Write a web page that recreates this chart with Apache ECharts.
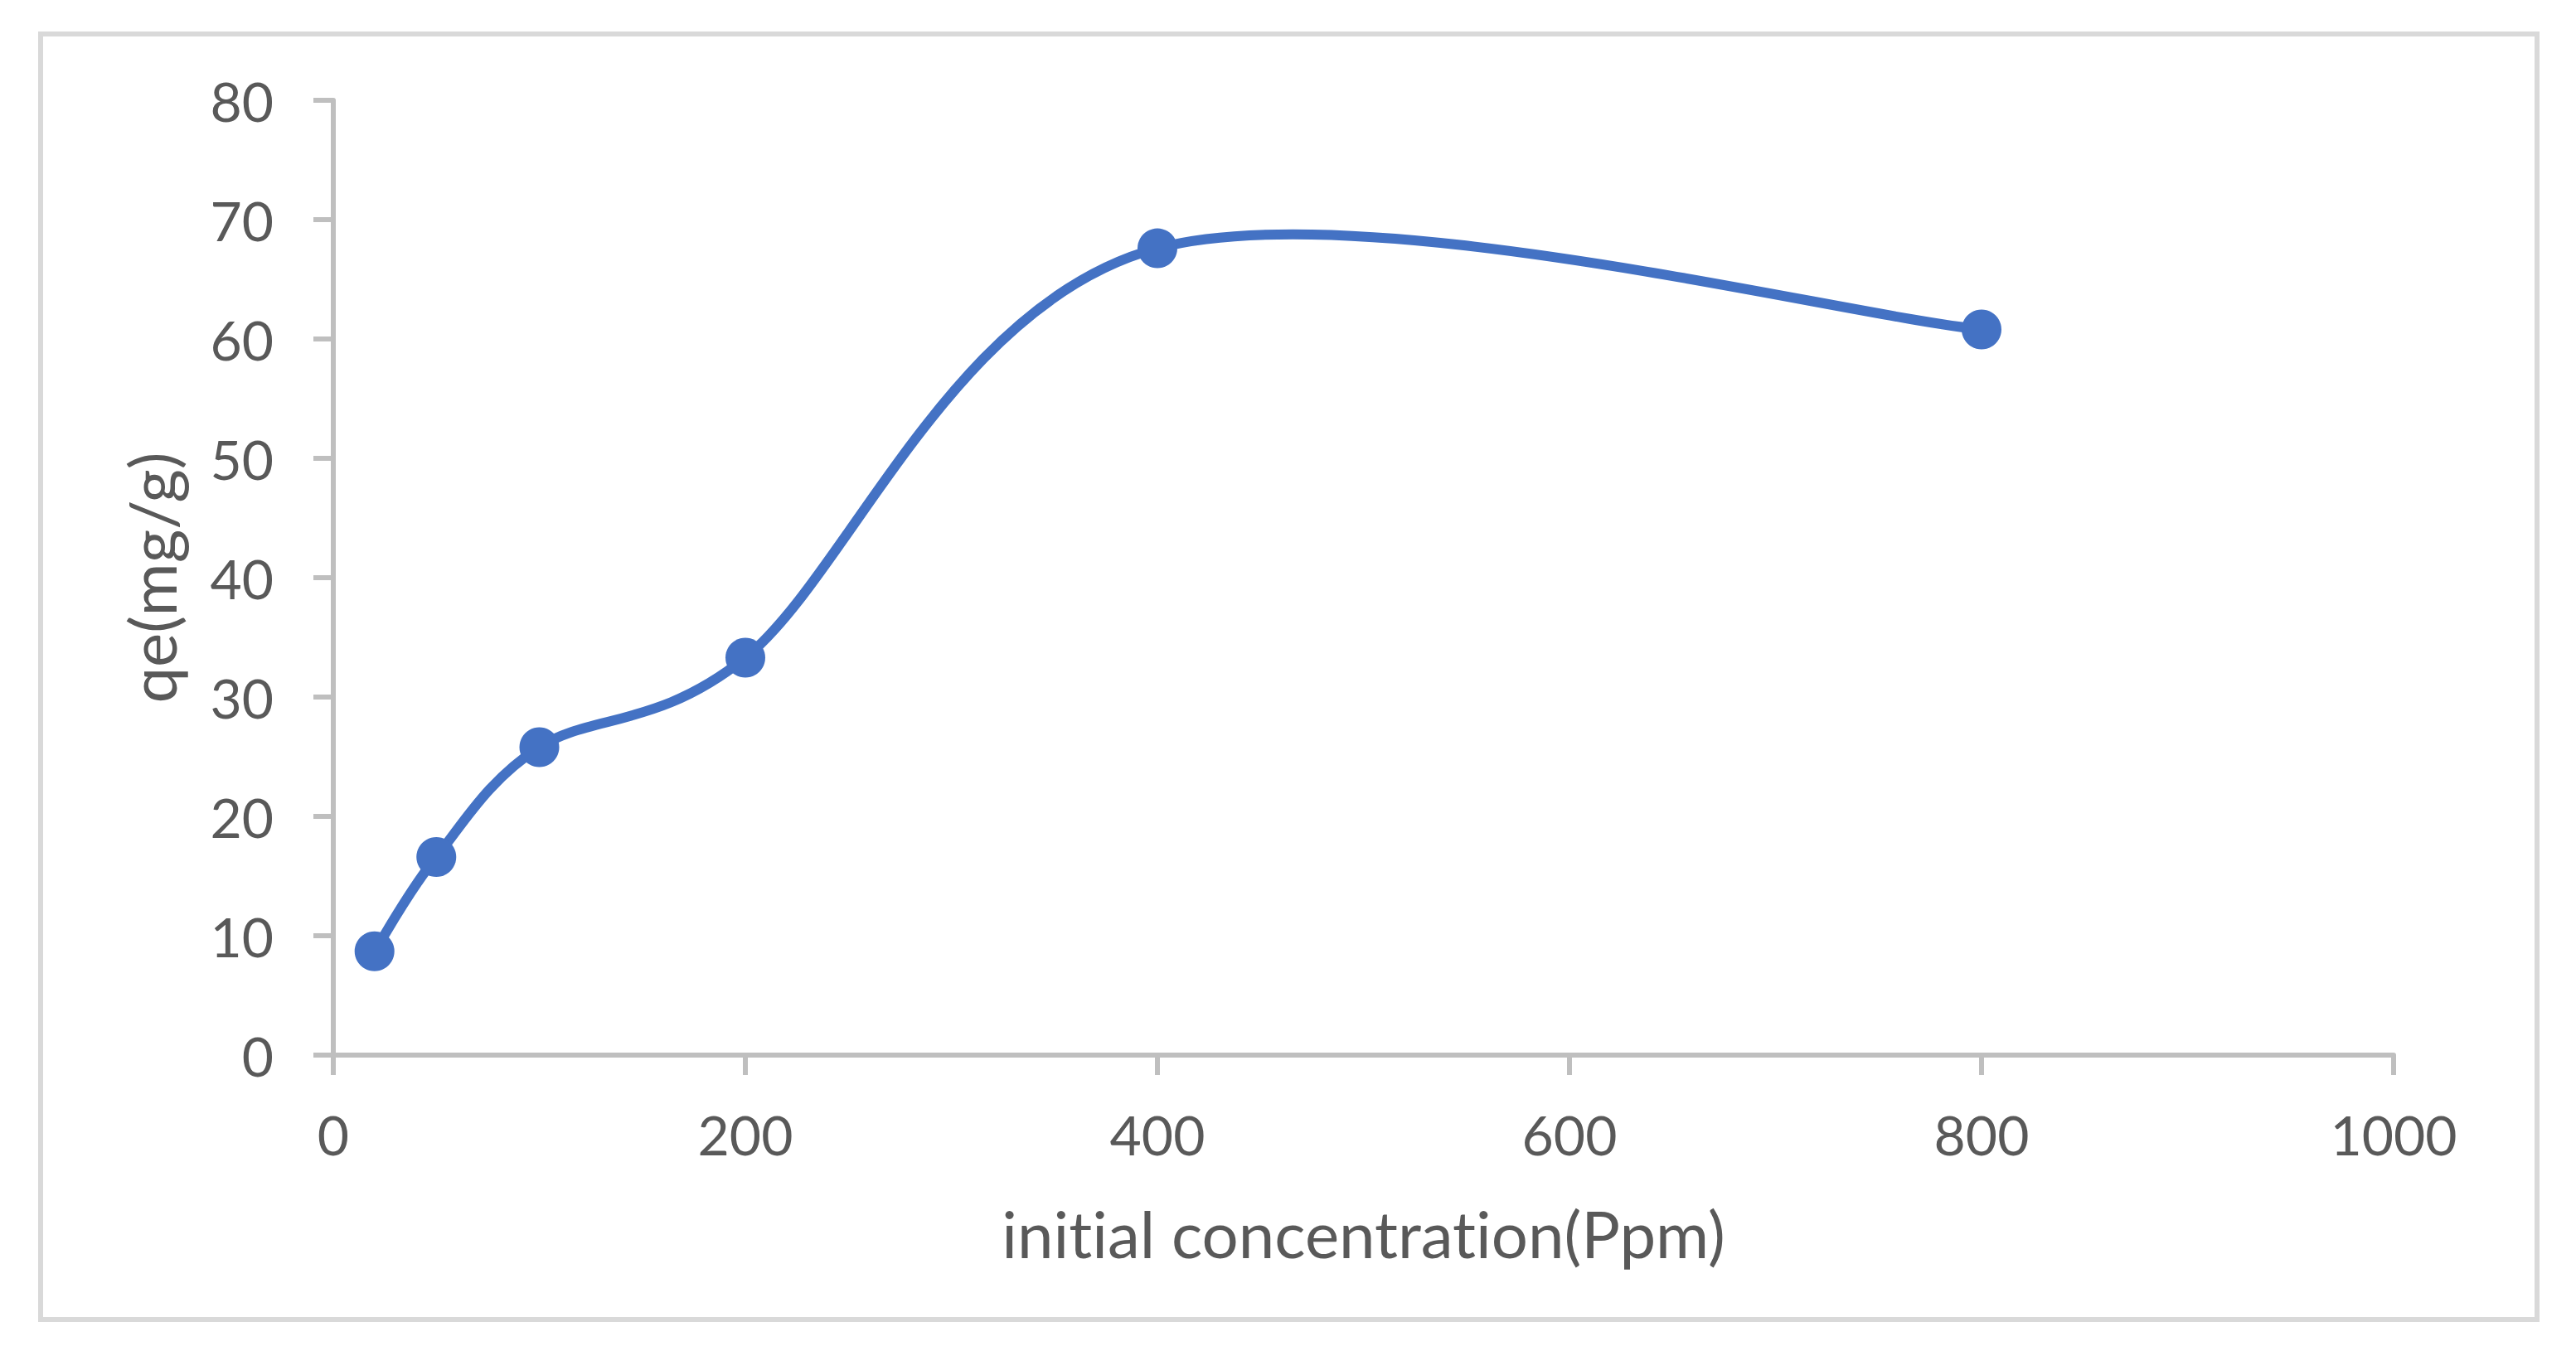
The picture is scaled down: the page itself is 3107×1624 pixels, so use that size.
<!DOCTYPE html>
<html>
<head>
<meta charset="utf-8">
<title>qe vs initial concentration</title>
<script src="https://cdn.jsdelivr.net/npm/echarts@6/dist/echarts.min.js"></script>
<style>
  html, body { margin: 0; padding: 0; background: #fff; }
  #main { width: 3107px; height: 1624px; }
  #main text { font-variant-ligatures: none; }
</style>
</head>
<body>
<div id="main"></div>
<script>
// data
var concentration = [20, 50, 100, 200, 400, 800];
var qe = [8.7, 16.6, 25.8, 33.3, 67.6, 60.8];

var xTitle = 'initial concentration(Ppm)';
var yTitle = 'qe(mg/g)';

var points = concentration.map(function (c, i) { return [c, qe[i]]; });

var axisColor = '#bfbfbf';
var textColor = '#595959';
var lineColor = '#4472c4';
var font = 'Lato';

// excel style smoothed line: catmull-rom bezier, handles capped at half the segment
function smoothLine(params, api) {
  if (params.dataIndex !== 0) return null;
  var pts = points.map(function (p) { return api.coord(p); });
  var n = pts.length;
  var segs = [];
  function handle(i, seg) {
    var a = pts[Math.max(i - 1, 0)], b = pts[Math.min(i + 1, n - 1)];
    var hx = (b[0] - a[0]) / 6, hy = (b[1] - a[1]) / 6;
    var len = Math.sqrt(hx * hx + hy * hy);
    var lim = seg / 2;
    if (len > lim && len > 0) { hx *= lim / len; hy *= lim / len; }
    return [hx, hy];
  }
  for (var i = 0; i < n - 1; i++) {
    var p1 = pts[i], p2 = pts[i + 1];
    var seg = Math.sqrt(Math.pow(p2[0] - p1[0], 2) + Math.pow(p2[1] - p1[1], 2));
    var h1 = handle(i, seg), h2 = handle(i + 1, seg);
    segs.push({
      type: 'bezierCurve',
      shape: {
        x1: p1[0], y1: p1[1],
        cpx1: p1[0] + h1[0], cpy1: p1[1] + h1[1],
        cpx2: p2[0] - h2[0], cpy2: p2[1] - h2[1],
        x2: p2[0], y2: p2[1]
      },
      style: { fill: 'none', stroke: lineColor, lineWidth: 12, lineCap: 'round' }
    });
  }
  return { type: 'group', children: segs };
}

var chart = echarts.init(document.getElementById('main'), null, { renderer: 'svg' });

var option = {
  backgroundColor: '#fff',
  animation: false,
  grid: {
    left: 402,
    right: 220,
    top: 121,
    bottom: 351
  },
  graphic: [{
    type: 'rect',
    shape: { x: 49, y: 41, width: 3011, height: 1551 },
    style: { fill: 'none', stroke: '#d9d9d9', lineWidth: 6 },
    silent: true
  }],
  xAxis: {
    type: 'value',
    min: 0,
    max: 1000,
    interval: 200,
    name: xTitle,
    nameLocation: 'middle',
    nameGap: 176,
    nameTextStyle: { color: textColor, fontSize: 78, fontFamily: font },
    axisLine: { show: true, lineStyle: { color: axisColor, width: 6 } },
    axisTick: { show: true, length: 24, lineStyle: { color: axisColor, width: 6 } },
    axisLabel: {
      color: textColor, fontSize: 66, fontFamily: font, margin: 62,
      formatter: function (v) { return String(v); }
    },
    splitLine: { show: false }
  },
  yAxis: {
    type: 'value',
    min: 0,
    max: 80,
    interval: 10,
    name: yTitle,
    nameLocation: 'middle',
    nameGap: 180,
    nameTextStyle: { color: textColor, fontSize: 78, fontFamily: font },
    axisLine: { show: true, lineStyle: { color: axisColor, width: 6 } },
    axisTick: { show: true, length: 24, lineStyle: { color: axisColor, width: 6 } },
    axisLabel: { color: textColor, fontSize: 66, fontFamily: font, margin: 72 },
    splitLine: { show: false }
  },
  series: [{
    type: 'custom',
    data: points,
    renderItem: smoothLine,
    silent: true,
    z: 2
  }, {
    type: 'scatter',
    data: points,
    symbol: 'circle',
    symbolSize: 48,
    itemStyle: { color: lineColor, opacity: 1 },
    z: 3
  }]
};

chart.setOption(option);
</script>
</body>
</html>
